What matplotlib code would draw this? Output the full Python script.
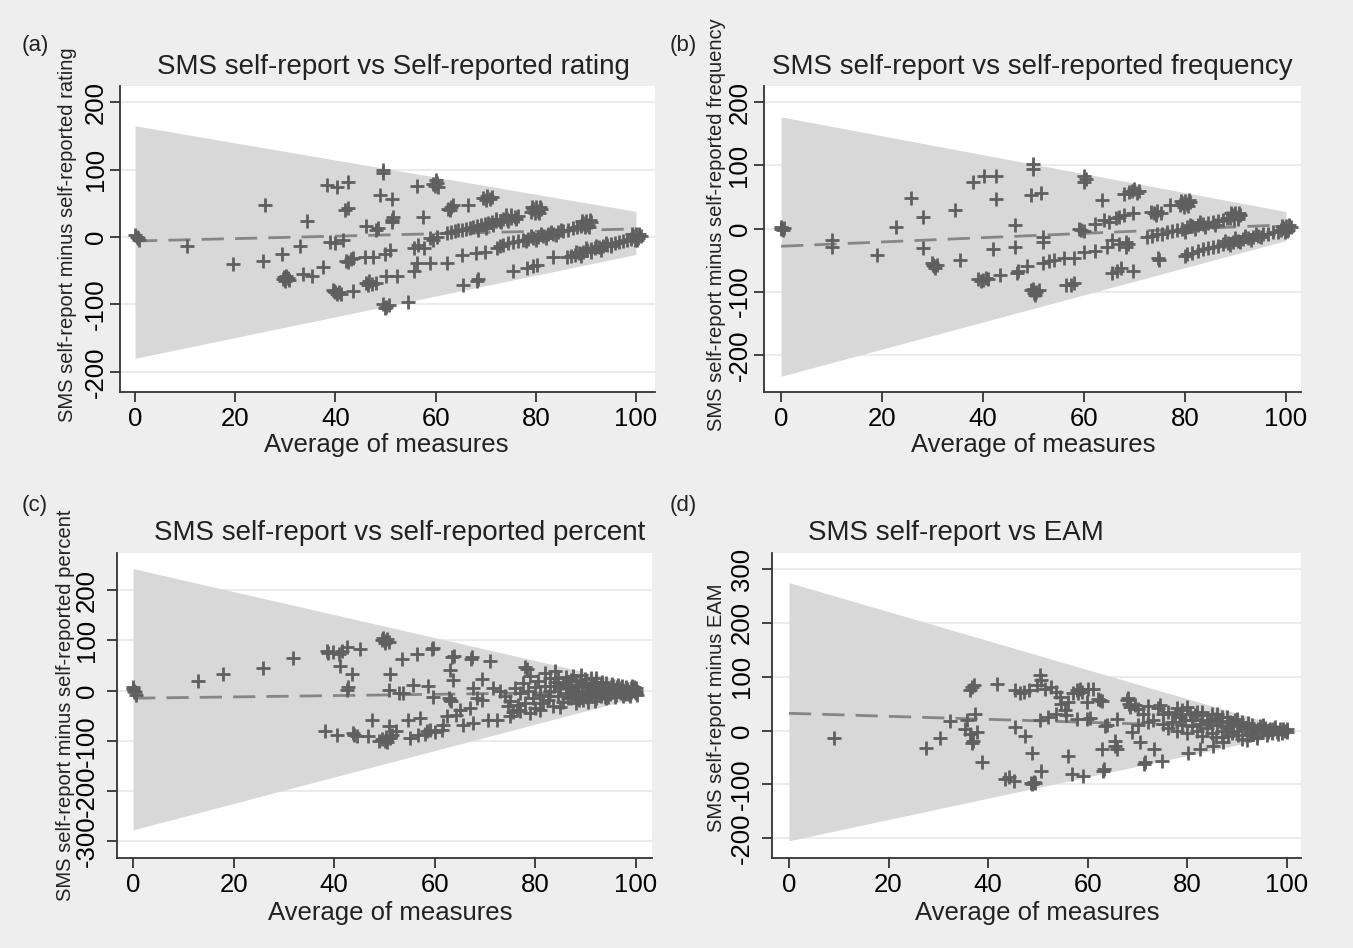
import numpy as np
import matplotlib as mpl
mpl.use('Agg')
import matplotlib.pyplot as plt

plt.rcParams['font.family'] = ['Liberation Sans', 'DejaVu Sans']
plt.rcParams['axes.unicode_minus'] = False

W, H = 1353, 948

# ---------------- data ----------------
ends = [0, 100]

# (a) SMS self-report vs self-reported rating
a_upper = [165, 38]
a_lower = [-180, -26]
a_fit = [-6, 12]
a_pts = [(0, 3), (0.5, -2), (0.3, 0), (0.8, -5), (10.3, -14), (19.5, -40), (25.9, 47), (25.6, -36),
         (29.3, -25), (29.6, -62), (30.2, -58), (30.8, -64), (30, -66), (29.8, -60), (30.5, -61),
         (32.9, -14), (33.5, -55), (35.3, -58), (34.3, 24), (37.6, -44), (38.3, 77), (40.3, 74),
         (42.6, 82), (38.9, -7), (39.9, -9), (41.6, -4), (41.9, 40), (42.6, 43),
         (39.8, -80), (40.3, -84), (40.8, -81), (41.2, -85), (40, -82), (39.6, -78), (43.6, -80),
         (42.6, -37), (43.1, -33), (43.6, -31), (42.2, -35), (45.9, -30), (47.6, -29),
         (46.2, 16), (48.2, 10), (48.6, 14), (46.2, -68), (46.8, -66), (47.4, -70), (48.2, -68),
         (46.5, -71), (49.6, 100), (49.6, 95), (48.9, 62), (51.2, 57), (49.9, -25), (50.9, -19),
         (51.2, 25), (51.5, 29), (51.2, 22), (49.5, -100), (50.2, -104), (50.6, -101), (49.9, -106),
         (54.5, -97), (50.2, -58), (52.3, -58), (55.6, -51), (56.2, 75), (57.5, 30),
         (56.2, -39), (58.9, -39), (62.2, -39), (55.6, -17), (57.6, -17), (56.5, -12),
         (58.9, -2), (60.2, 0), (59.5, -4), (59.8, 76), (60.3, 80), (60, 84), (59.5, 78), (60.5, 74),
         (62.5, 42), (63.5, 47), (63, 44), (62.8, 40), (66.5, 47), (65.2, -27), (68.1, -24),
         (69.8, -23), (65.5, -71), (68.2, -66), (68.5, -63), (69.5, 58), (70.2, 61), (70.8, 57),
         (71.2, 60), (70, 55), (72.9, -14), (72.2, -16), (73.5, -12), (75.5, -51), (78.2, -46),
         (80.2, -41), (79.5, -43), (83.5, -30),
         (62.2, 6), (63, 8), (63.8, 9), (64.5, 10), (65.2, 11), (66, 12), (66.8, 14), (67.5, 15),
         (68.2, 16), (69, 18), (69.8, 19), (70.5, 21), (71.2, 22), (72, 23), (72.8, 24), (73.5, 26),
         (74.2, 27), (75, 28), (75.8, 29), (76.5, 31), (68.5, 10), (70, 14), (71.5, 18), (73, 22),
         (74.5, 24), (76, 27), (72, 27), (74, 32), (75, 33),
         (74.5, -9), (75.5, -8), (76.5, -6), (77.5, -5), (78.5, -3), (79.5, -1), (80.5, 0),
         (81.5, 2), (82.5, 4), (83.5, 5), (84.5, 7), (85.5, 9), (86.5, 10), (87.5, 13), (88.2, 15),
         (79, 2), (81, 5), (83, 8), (85, 11), (78, -6), (80, -4), (82, -1), (84, 3),
         (86.2, -30), (87, -28), (87.8, -26), (88.6, -24), (89.4, -22), (90.2, -20), (91, -18),
         (91.8, -17), (92.6, -15), (93.4, -13), (94.2, -12), (95, -10), (95.8, -9), (96.6, -7),
         (97.4, -6), (98.2, -4), (88, -22), (90, -17), (92, -13), (94, -9), (89, -28), (91, -23),
         (93, -19), (95, -14),
         (79, 37), (79.5, 41), (80, 44), (80.5, 39), (81, 42), (79.8, 35), (80.6, 36), (79.2, 44), (80.8, 45),
         (89, 17), (89.5, 21), (90, 24), (90.5, 18), (91, 22), (89.8, 15), (90.6, 15), (89.2, 24), (90.8, 25),
         (99, -3), (99.5, 1), (100, 4), (100.5, -2), (101, 2), (99.8, -5), (100.3, -4), (99.2, 4), (100.7, 5)]

# (b) SMS self-report vs self-reported frequency
b_upper = [177, 27]
b_lower = [-234, -19]
b_fit = [-28, 6]
b_pts = [(0, 2), (0.3, -2), (0, -1), (0.5, 1), (10, -18), (10, -29), (18.9, -42), (22.7, 2),
         (25.8, 49), (28.2, 18), (28.2, -30), (29.8, -55), (30.2, -60), (30.5, -63), (30, -58),
         (30.8, -57), (34.4, 29), (35.4, -49), (38.1, 74), (40.2, 84), (42.6, 84), (42.6, 47),
         (41.9, -33), (46.4, 5), (46.4, -29), (49.8, 103), (49.8, 94), (49.5, 53), (51.5, 56),
         (51.9, -14), (51.9, -21), (60.1, 83), (60.1, 74), (60.4, 79), (63.6, 45),
         (68, 55), (69, 58), (70, 62), (70.5, 57), (69.5, 60), (71, 60),
         (73.2, 26), (73.8, 24), (74.2, 22), (75.3, 24), (74.5, 28), (77, 37),
         (79, 37), (79.5, 41), (80, 44), (80.5, 39), (81, 42), (79.8, 35), (80.6, 36), (79.2, 44), (80.8, 45),
         (89, 17), (89.5, 21), (90, 24), (90.5, 18), (91, 22), (89.8, 15), (90.6, 15), (89.2, 24), (90.8, 25),
         (99, -3), (99.5, 1), (100, 4), (100.5, -2), (101, 2), (99.8, -5), (100.3, -4), (99.2, 4), (100.7, 5),
         (59.5, -3), (59, -1), (60, -4), (62.2, 8), (63.9, 13), (66.3, 16), (68, 21), (69.8, 24),
         (65, 10), (67, 18),
         (72.5, -13), (73.5, -11), (74.5, -9), (75.5, -8), (76.5, -6), (77.5, -4), (78.5, -2),
         (79.5, 0), (80.5, 2), (81.5, 4), (82.5, 5), (83.5, 7), (84.5, 9), (85.5, 10), (86.5, 12),
         (87.5, 14), (88.3, 16), (80, -5), (82, -1), (84, 3), (86, 6), (81, 6), (83, 10),
         (80, -44), (80.5, -40), (81.5, -38), (82.5, -36), (83.5, -33), (84.5, -31), (85.5, -29),
         (86.5, -27), (87.5, -25), (88.5, -23), (89.5, -21), (90.5, -19), (91.5, -17), (92.5, -15),
         (93.5, -13), (94.5, -11), (95.5, -9), (96.5, -8), (97.5, -6), (98.5, -5), (88, -19),
         (90, -15), (92, -12), (94, -8), (89, -26), (91, -22), (93, -18), (95, -14),
         (74.6, -47), (74.8, -50), (68.4, -21), (68.4, -29), (67, -25), (65.6, -18), (68.8, -24),
         (39, -80), (40, -82), (41, -80), (39.5, -83), (40.5, -78), (43.3, -74), (46.7, -70),
         (46.9, -67), (48.8, -60), (51.9, -55), (54, -50), (56, -47), (58.1, -47), (60.1, -37),
         (62.2, -35), (64.6, -29), (53, -52), (49.5, -98), (50, -102), (50.5, -100), (51, -97),
         (49.8, -95), (50.3, -105), (56.4, -90), (58.1, -87), (57.5, -90), (65.6, -71),
         (67.4, -63), (69.8, -68), (66.5, -68)]

# (c) SMS self-report vs self-reported percent
c_upper = [243, 14]
c_lower = [-277, -14]
c_fit = [-15, -2]
c_pts = [(0, 3), (0.3, -3), (0.5, -8), (0, 8), (0.2, 0), (12.9, 20), (17.9, 34), (25.9, 46),
         (31.9, 66), (38.8, 75), (39.8, 77), (41.5, 79), (42.5, 87), (45.1, 82), (41, 72), (38.5, 78),
         (41.2, 49), (43.5, 33), (42.5, 1), (42.8, 7), (49.5, 100), (50, 98), (50.5, 102), (50, 95),
         (49.8, 104), (50.8, 97), (53.4, 64), (56.4, 73), (59.7, 84), (59.4, 82), (51.1, 33),
         (50.8, 1), (52.8, -4), (53.7, -5), (55.7, 11), (58.7, 9), (59.7, -12), (63, 41), (63.7, 21),
         (63.4, 67), (63.8, 70), (67.3, 64), (67.5, 67), (71, 59), (63, -18), (62.8, -15), (63.3, -21),
         (67.6, 5), (69.3, 24), (71.5, 5), (69.3, -18), (68.3, -15), (77.9, 47), (78.3, 44),
         (47.5, -58), (50.8, -71), (49.5, -97), (50, -100), (50.5, -103), (51, -95), (49, -101),
         (50.2, -93), (38.2, -81), (40.5, -88), (43.8, -84), (44.5, -91), (46.8, -91), (44, -88),
         (51.5, -88), (52.2, -81), (54.7, -59), (57, -55), (55, -94), (56.7, -88), (58.4, -81),
         (59, -78), (61.4, -78), (61.7, -68), (62.4, -51), (64.3, -48), (65, -38), (67, -35),
         (65.7, -68), (67.6, -65), (70.6, -58), (72.3, -58), (75, -51), (79, -45), (76.3, -38),
         (58, -86), (60, -82),
         (73, 0), (74, -10), (75, -20), (76, 5), (76.5, -28), (77, -5), (77.5, 15), (78, -25),
         (78.5, 0), (79, 30), (79.5, -15), (80, 8), (80, -35), (74.5, -30), (75.5, -42), (77, -40),
         (80.5, 20), (81, -8), (81.5, -25), (82, 35), (82, 10), (82.5, -18), (83, 0), (83.5, -30),
         (84, 40), (84, 18), (84.5, -10), (85, 5), (85.5, -22), (86, 28), (86, -5), (81, -38),
         (83, 25), (85, -32), (86.5, 12), (87, -15), (87.5, 30), (87.5, 0), (88, -25), (88, 20),
         (88.5, 8), (89, -10), (89, 32), (89.5, -18), (90, 15), (90, 0), (90.5, -22), (91, 25),
         (91, -8), (91.5, 10), (92, -15), (92, 18), (88.5, -5), (90.5, 5), (92.5, 2), (93, -10),
         (93, 12), (93.5, -5), (94, 15), (94, 0), (94.5, -12), (95, 8), (95, -3), (95.5, 10),
         (96, -8), (96, 2), (96.5, 12), (97, -5), (97, 5), (97.5, -10), (98, 8), (98, 0), (98.5, -6),
         (99, 5), (99, -3), (99.5, 2), (100, 0), (100, 5), (100, -5), (99.7, 8), (100.3, -8),
         (94, -15), (92, 25),
         (84.5, 25), (85.5, 15), (86.5, -15), (87, 22), (87.8, -8), (88.7, -18), (89.2, 12),
         (89.8, 24), (90.3, -12), (91.2, 3), (91.8, -20), (92.3, 8), (92.8, -4), (93.3, 18),
         (93.8, -12), (94.3, 5), (94.8, -6), (95.3, 14), (95.8, -12), (96.3, 7), (96.8, -2),
         (97.3, 10), (97.8, -7), (98.3, 4), (98.8, -10), (99.3, 9), (99.8, -2), (83.7, 10),
         (82.8, -10), (86.8, 5), (88.2, -12), (90.8, -3)]

# (d) SMS self-report vs EAM
d_upper = [275, 5]
d_lower = [-205, -7]
d_fit = [32, 4]
d_pts = [(9.1, -14), (27.6, -32), (30.3, -14), (32.4, 18), (35.4, 3), (35.7, 19), (36.4, -6),
         (37.4, 31), (37.7, -3), (37, -19), (36.8, -24), (36.4, 75), (37.1, 84), (36.8, 80),
         (38.7, -59), (41.7, 86), (45.4, 75), (46.4, 69), (48.1, 76), (47.2, 72), (49.7, 84),
         (50.4, 103), (50.7, 94), (51.4, 78), (52.7, 81), (53.7, 72), (54.4, 62), (54.7, 50),
         (55.4, 38), (56.1, 53), (57.1, 69), (57.8, 75), (58.4, 78), (58.8, 72), (59.8, 53),
         (61.1, 78), (62.1, 59), (62.4, 56), (62.8, 55), (60, 77), (58, 70), (45.4, 6), (47.4, -11),
         (48.7, -41), (50.7, -75), (43.4, -91), (45.1, -94), (44.2, -86), (48.7, -100), (49.4, -97),
         (48.6, -98), (49.2, -95), (50.4, 20), (52.1, 25), (53.7, 31), (55.7, 28), (57.8, 22),
         (59.8, 22), (60.4, 24), (63.5, 9), (63.8, 11), (56.1, -47), (56.8, -81), (59.1, -84),
         (63.1, -75), (63.3, -72), (62.8, -34), (65.5, -28), (65.5, -19), (65.8, -35), (65.8, 22),
         (67.8, 56), (68.5, 44), (68.8, -3), (68, 60), (68.3, 50), (69.5, 48), (70.5, -22),
         (73.2, -34), (71.2, -62), (71.5, -58), (74.9, -56), (70, 40), (71, 30), (72, 45), (73, 20),
         (74, 42), (74.5, 48), (75, 30), (76, 35), (77, 15), (78, 42), (78.5, 25), (79, 38), (80, 44),
         (80.5, 30), (81, 20), (82, 35), (83, 28), (80.2, -41), (82.5, -34), (85.2, -28), (87.2, -22),
         (70, 10), (72, 15), (75, 12), (76, 5), (78, 0), (79, 10), (80, -5), (81, 8), (82, 0),
         (83, -10), (84, 15), (84, 5), (85, -5), (85.5, 22), (86, 10), (87, -12), (87, 25), (88, 5),
         (88.5, 15), (89, -5), (89.5, 20), (90, 0), (90.5, 10), (91, -15), (91, 15), (92, 5),
         (92.5, -8), (93, 10), (93.5, 0), (94, -10), (94.5, 8), (95, -3), (95.5, 5), (96, -8),
         (96.5, 3), (97, -4), (97.5, 6), (98, -2), (98.5, 2), (99, -5), (99.5, 0), (100, 3),
         (100, -3), (86, 30), (88, 25), (90, 22), (92, -18), (94, -14), (83, 35), (85, 30),
         (84.5, 20), (85.8, -12), (86.5, 18), (87.5, 0), (88.2, -10), (89.2, 10), (90.2, -8),
         (91.5, 5), (92.2, 14), (93.2, -6), (94.2, 2), (95.2, 10), (96.2, -3), (97.2, 2),
         (98.2, -6), (99.2, 3), (81.5, 28), (79.5, 20), (77.5, 30), (82.5, 12)]

titles = ['SMS self-report vs Self-reported rating',
          'SMS self-report vs self-reported frequency',
          'SMS self-report vs self-reported percent',
          'SMS self-report vs EAM']
ylabels = ['SMS self-report minus self-reported rating',
           'SMS self-report minus self-reported frequency',
           'SMS self-report minus self-reported percent',
           'SMS self-report minus EAM']
tags = ['(a)', '(b)', '(c)', '(d)']
yticks = [[-200, -100, 0, 100, 200], [-200, -100, 0, 100, 200],
          [-300, -200, -100, 0, 100, 200], [-200, -100, 0, 100, 200, 300]]
xticks = [0, 20, 40, 60, 80, 100]

# ---------------- layout (pixels) ----------------
boxes = [(120, 655, 86, 392), (764, 1301, 86, 392), (117, 652, 553, 858), (772, 1301, 553, 858)]
xlims = [(-3.0, 103.8), (-3.4, 103.0), (-3.2, 103.2), (-3.4, 102.8)]
ylims = [(-230, 224), (-259, 226), (-333, 274), (-237, 330)]
title_xy = [(393, 67), (1032, 67), (400, 533), (956, 533)]
xlab_xy = [(386, 445), (1033, 445), (390, 913), (1037, 913)]
ylab_xy = [(68, 235), (716, 225), (66, 705), (716, 708)]
tag_xy = [(22, 45), (670, 45), (22, 505), (670, 505)]
ypads = [2, 2, 6, 6]

panels = [(a_pts, a_upper, a_lower, a_fit), (b_pts, b_upper, b_lower, b_fit),
          (c_pts, c_upper, c_lower, c_fit), (d_pts, d_upper, d_lower, d_fit)]

fig = plt.figure(figsize=(W / 100, H / 100), dpi=100, facecolor='#eeeeee')


def fx(px):
    return px / W


def fy(py):
    return 1 - py / H


for i, (pts, up, lo, fit) in enumerate(panels):
    l, r, t, b = boxes[i]
    ax = fig.add_axes([fx(l), fy(b), (r - l) / W, (b - t) / H])
    ax.set_facecolor('white')
    for yt in yticks[i]:
        ax.axhline(yt, color='#ebebeb', lw=1.5, zorder=0)
    ax.fill_between(ends, up, lo, color='#d8d8d9', lw=0, zorder=1)
    ax.plot(ends, fit, color='#868686', lw=2, dashes=(8, 4), zorder=2)
    px, py = zip(*pts)
    ax.plot(px, py, '+', color='#5f5f5f', ms=9.5, mew=2.0, zorder=3)
    ax.set_xlim(*xlims[i])
    ax.set_ylim(*ylims[i])
    ax.set_xticks(xticks)
    ax.set_yticks(yticks[i])
    for s in ['top', 'right']:
        ax.spines[s].set_visible(False)
    for s in ['left', 'bottom']:
        ax.spines[s].set_color('#333333')
        ax.spines[s].set_linewidth(1.3)
    ax.tick_params(axis='x', length=7, width=1.3, color='#333333', labelsize=18.5, pad=4)
    ax.tick_params(axis='y', length=7, width=1.3, color='#333333', labelsize=18.5,
                   pad=ypads[i], labelrotation=90)
    for lab in ax.get_yticklabels():
        lab.set_verticalalignment('center')
    fig.text(fx(title_xy[i][0]), fy(title_xy[i][1]), titles[i], fontsize=20,
             ha='center', va='center', color='#222222')
    fig.text(fx(xlab_xy[i][0]), fy(xlab_xy[i][1]), 'Average of measures', fontsize=18.5,
             ha='center', va='center', color='#222222')
    fig.text(fx(ylab_xy[i][0]), fy(ylab_xy[i][1]), ylabels[i], fontsize=14.5, rotation=90,
             ha='center', va='center', color='#222222')
    fig.text(fx(tag_xy[i][0]), fy(tag_xy[i][1]), tags[i], fontsize=16,
             ha='left', va='center', color='#222222')

fig.savefig('out.png', dpi=100, facecolor=fig.get_facecolor())
